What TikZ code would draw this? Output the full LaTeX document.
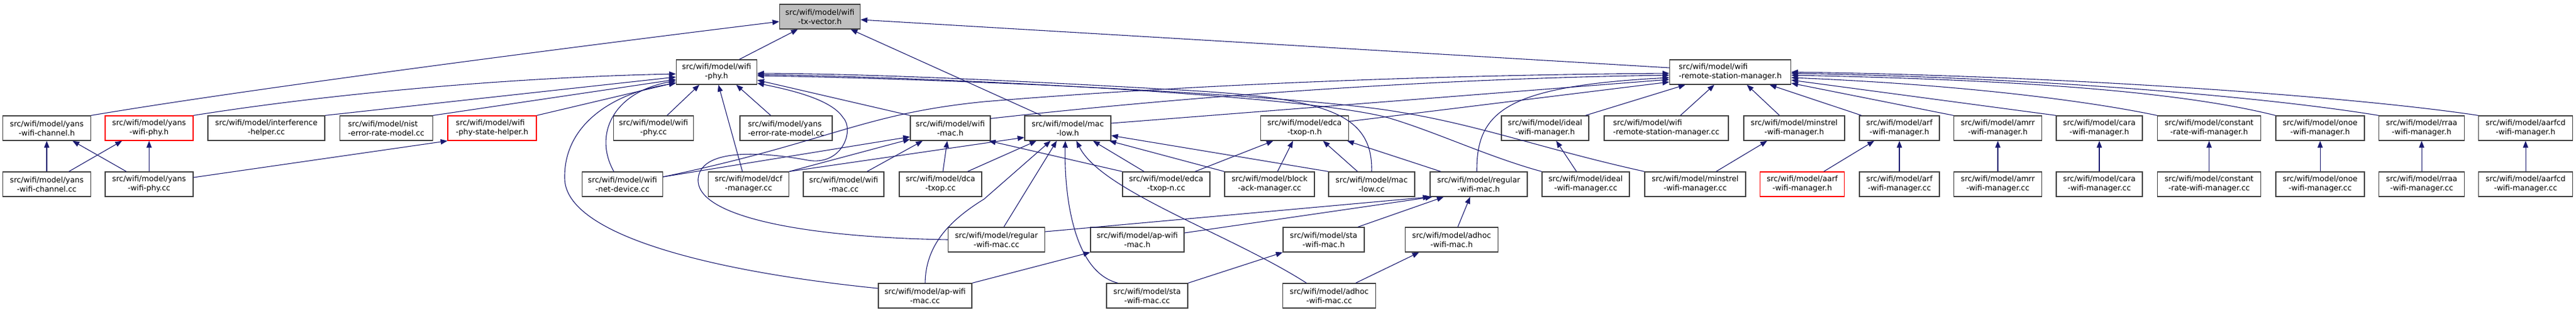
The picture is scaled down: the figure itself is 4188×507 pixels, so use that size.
\documentclass[tikz,border=0pt]{standalone}
\usepackage{fontspec}
\setmainfont{DejaVu Sans}
\usetikzlibrary{arrows.meta,calc}
\definecolor{edgec}{HTML}{191970}
\definecolor{boxc}{HTML}{404040}
\definecolor{rootfill}{HTML}{BFBFBF}
\tikzset{
  file/.style={draw=boxc, line width=1.3pt, fill=white, minimum height=40pt, inner sep=0pt,
    font=\fontsize{12.4}{15}\selectfont, align=center, text=black},
  lfile/.style={file, align=left},
  redf/.style={draw=red},
  rootf/.style={fill=rootfill},
  edge/.style={draw=edgec, line width=1.1pt, -{Triangle[length=11pt,width=8.5pt]}},
}
\begin{document}
\begin{tikzpicture}[x=1pt,y=-1pt]
\useasboundingbox (0,0) rectangle (4188,507);
% row 0
\node[file,rootf,minimum width=131pt] (txv) at (1333,27) {src/wifi/model/wifi\\-tx-vector.h};
% row 1
\node[file,minimum width=131pt] (phy) at (1165,117) {src/wifi/model/wifi\\-phy.h};
\node[lfile,minimum width=197pt] (rsm) at (2813,117) {src/wifi/model/wifi\\-remote-station-manager.h};
% row 2
\node[file,minimum width=143pt] (ychh) at (76,208) {src/wifi/model/yans\\-wifi-channel.h};
\node[file,redf,minimum width=143pt] (yphyh) at (242.4,208) {src/wifi/model/yans\\-wifi-phy.h};
\node[file,minimum width=190pt] (inter) at (433,208) {src/wifi/model/interference\\-helper.cc};
\node[lfile,minimum width=151pt] (nist) at (628,208) {src/wifi/model/nist\\-error-rate-model.cc};
\node[lfile,redf,minimum width=144pt] (psh) at (800,208) {src/wifi/model/wifi\\-phy-state-helper.h};
\node[file,minimum width=130pt] (phycc) at (1062.5,208) {src/wifi/model/wifi\\-phy.cc};
\node[lfile,minimum width=150pt] (yerr) at (1278,208) {src/wifi/model/yans\\-error-rate-model.cc};
\node[file,minimum width=130pt] (mach) at (1545,208) {src/wifi/model/wifi\\-mac.h};
\node[file,minimum width=140pt] (lowh) at (1736,208) {src/wifi/model/mac\\-low.h};
\node[file,minimum width=143pt] (edcah) at (2121,208) {src/wifi/model/edca\\-txop-n.h};
\node[file,minimum width=142pt] (idealh) at (2512,208) {src/wifi/model/ideal\\-wifi-manager.h};
\node[lfile,minimum width=202pt] (rsmcc) at (2709,208) {src/wifi/model/wifi\\-remote-station-manager.cc};
\node[file,minimum width=164pt] (minh) at (2917,208) {src/wifi/model/minstrel\\-wifi-manager.h};
\node[file,minimum width=130pt] (arfh) at (3088,208) {src/wifi/model/arf\\-wifi-manager.h};
\node[file,minimum width=143pt] (amrrh) at (3248,208) {src/wifi/model/amrr\\-wifi-manager.h};
\node[file,minimum width=140pt] (carah) at (3413,208) {src/wifi/model/cara\\-wifi-manager.h};
\node[file,minimum width=168pt] (consth) at (3591.5,208) {src/wifi/model/constant\\-rate-wifi-manager.h};
\node[file,minimum width=144pt] (onoeh) at (3772,208) {src/wifi/model/onoe\\-wifi-manager.h};
\node[file,minimum width=139pt] (rraah) at (3937,208) {src/wifi/model/rraa\\-wifi-manager.h};
\node[file,minimum width=153pt] (aarfcdh) at (4106,208) {src/wifi/model/aarfcd\\-wifi-manager.h};
% row 3
\node[file,minimum width=143pt] (ychcc) at (76,299) {src/wifi/model/yans\\-wifi-channel.cc};
\node[file,minimum width=143pt] (yphycc) at (242.4,299) {src/wifi/model/yans\\-wifi-phy.cc};
\node[file,minimum width=131pt] (netdev) at (1012,299) {src/wifi/model/wifi\\-net-device.cc};
\node[file,minimum width=131pt] (dcf) at (1217,299) {src/wifi/model/dcf\\-manager.cc};
\node[file,minimum width=131pt] (maccc) at (1371.6,299) {src/wifi/model/wifi\\-mac.cc};
\node[file,minimum width=134pt] (dca) at (1529,299) {src/wifi/model/dca\\-txop.cc};
\node[file,minimum width=142pt] (edcacc) at (1896,299) {src/wifi/model/edca\\-txop-n.cc};
\node[file,minimum width=146pt] (block) at (2064,299) {src/wifi/model/block\\-ack-manager.cc};
\node[file,minimum width=140pt] (lowcc) at (2230,299) {src/wifi/model/mac\\-low.cc};
\node[file,minimum width=158pt] (regh) at (2404,299) {src/wifi/model/regular\\-wifi-mac.h};
\node[file,minimum width=142pt] (idealcc) at (2578,299) {src/wifi/model/ideal\\-wifi-manager.cc};
\node[file,minimum width=164pt] (mincc) at (2756,299) {src/wifi/model/minstrel\\-wifi-manager.cc};
\node[file,redf,minimum width=137pt] (aarfh) at (2930,299) {src/wifi/model/aarf\\-wifi-manager.h};
\node[file,minimum width=130pt] (arfcc) at (3088,299) {src/wifi/model/arf\\-wifi-manager.cc};
\node[file,minimum width=143pt] (amrrcc) at (3248,299) {src/wifi/model/amrr\\-wifi-manager.cc};
\node[file,minimum width=140pt] (caracc) at (3413,299) {src/wifi/model/cara\\-wifi-manager.cc};
\node[file,minimum width=168pt] (constcc) at (3591.5,299) {src/wifi/model/constant\\-rate-wifi-manager.cc};
\node[file,minimum width=144pt] (onoecc) at (3772,299) {src/wifi/model/onoe\\-wifi-manager.cc};
\node[file,minimum width=139pt] (rraacc) at (3937,299) {src/wifi/model/rraa\\-wifi-manager.cc};
\node[file,minimum width=153pt] (aarfcdcc) at (4106,299) {src/wifi/model/aarfcd\\-wifi-manager.cc};
% row 4
\node[file,minimum width=157pt] (regcc) at (1620,389) {src/wifi/model/regular\\-wifi-mac.cc};
\node[file,minimum width=152pt] (aph) at (1849,389) {src/wifi/model/ap-wifi\\-mac.h};
\node[file,minimum width=132pt] (stah) at (2152,389) {src/wifi/model/sta\\-wifi-mac.h};
\node[file,minimum width=151pt] (adhoch) at (2360,389) {src/wifi/model/adhoc\\-wifi-mac.h};
% row 5
\node[file,minimum width=152pt] (apcc) at (1504,480) {src/wifi/model/ap-wifi\\-mac.cc};
\node[file,minimum width=132pt] (stacc) at (1865,480) {src/wifi/model/sta\\-wifi-mac.cc};
\node[file,minimum width=151pt] (adhoccc) at (2161,480) {src/wifi/model/adhoc\\-wifi-mac.cc};

% edges to tx-vector
\draw[edge] (ychh.north east) .. controls (400,145) and (900,80) .. ($(txv.west)+(0,8)$);
\draw[edge] ($(phy.north)+(37,0)$) -- ($(txv.south)+(-36,0)$);
\draw[edge] ($(lowh.north)+(-43,0)$) -- ($(txv.south)+(50,0)$);
\draw[edge] ($(rsm.west)+(0,-7)$) -- ($(txv.east)+(0,5)$);
% edges to wifi-phy.h
\draw[edge] (yphyh.north east) .. controls (550,150) and (850,125) .. ($(phy.west)+(0,3)$);
\draw[edge] (inter.north east) -- ($(phy.west)+(0,8)$);
\draw[edge] (nist.north east) -- ($(phy.west)+(0,12)$);
\draw[edge] (psh.north east) -- ($(phy.west)+(0,17)$);
\draw[edge] ($(phycc.north)+(22,0)$) -- ($(phy.south)+(-28,0)$);
\draw[edge] ($(netdev.north)+(-14,0)$) .. controls (965,220) and (995,150) .. ($(phy.west)+(0,14)$);
\draw[edge] ($(dcf.north)+(-10,0)$) -- ($(phy.south)+(3,0)$);
\draw[edge] ($(yerr.north)+(-25,0)$) -- ($(phy.south)+(32,0)$);
\draw[edge] ($(apcc.west)+(0,-12)$) .. controls (1150,440) and (920,380) .. (918,290)
   .. controls (916,200) and (1000,150) .. ($(phy.west)+(0,18)$);
\draw[edge] (regcc.west) .. controls (1300,385) and (1130,350) .. (1135,290)
   .. controls (1140,235) and (1260,250) .. (1313,260)
   .. controls (1370,270) and (1390,210) .. (1370,190)
   .. controls (1350,160) and (1280,145) .. ($(phy.east)+(0,18)$);
\draw[edge] (mach.north west) -- ($(phy.east)+(0,13)$);
\draw[edge] (lowcc.north) .. controls (2232,180) and (2150,158) .. (1900,145)
   .. controls (1600,128) and (1400,120) .. ($(phy.east)+(0,2)$);
\draw[edge] (idealcc.north west) .. controls (2420,255) and (2330,212) .. (2253,190)
   .. controls (2100,152) and (1500,125) .. ($(phy.east)+(0,4)$);
\draw[edge] (mincc.north west) .. controls (2500,240) and (2400,200) .. (2250,178)
   .. controls (2050,150) and (1500,127) .. ($(phy.east)+(0,6)$);
% wifi-net-device.cc
\draw[edge] ($(netdev.east)+(0,-12)$) -- ($(mach.west)+(0,14)$);
\draw[edge] ($(netdev.east)+(0,-12)$) .. controls (1350,230) and (1400,185) .. (1600,165)
   .. controls (1900,140) and (2300,122) .. ($(rsm.west)+(0,2)$);
% dcf-manager.cc
\draw[edge] (dcf.north east) -- ($(mach.west)+(0,18)$);
\draw[edge] (dcf.north east) -- ($(lowh.west)+(0,15)$);
% wifi-mac.h includers
\draw[edge] ($(maccc.north)+(38,0)$) -- ($(mach.south)+(-45,0)$);
\draw[edge] ($(dca.north)+(4,0)$) -- ($(mach.south)+(-5,0)$);
\draw[edge] ($(dca.north)+(44,0)$) -- ($(lowh.south)+(-51,0)$);
\draw[edge] (edcacc.north west) -- ($(mach.south east)+(-3,0)$);
\draw[edge] ($(edcacc.north)+(-36,0)$) -- ($(lowh.south)+(41,0)$);
\draw[edge] ($(edcacc.north)+(47,0)$) -- ($(edcah.south)+(-51,0)$);
\draw[edge] ($(block.north)+(13,0)$) -- ($(edcah.south)+(-19,0)$);
\draw[edge] (block.north west) -- ($(lowh.south east)+(-3,0)$);
\draw[edge] (lowcc.north west) -- ($(lowh.east)+(0,12)$);
\draw[edge] ($(lowcc.north)+(-23,0)$) -- ($(edcah.south)+(30,0)$);
\draw[edge] ($(regh.north west)+(18,0)$) -- ($(edcah.south east)+(-3,0)$);
% to remote-station-manager.h
\draw[edge] ($(regh.north)+(-3,0)$) .. controls (2400,180) and (2450,140) .. ($(rsm.west)+(0,9)$);
\draw[edge] ($(edcah.east)+(0,-11)$) -- ($(rsm.west)+(0,16)$);
\draw[edge] ($(lowh.east)+(0,-8)$) -- ($(rsm.west)+(0,12)$);
\draw[edge] ($(mach.north east)+(0,5)$) .. controls (1900,160) and (2300,128) .. ($(rsm.west)+(0,5)$);
\draw[edge] ($(idealh.north east)+(-6,0)$) -- ($(rsm.south west)+(26,0)$);
\draw[edge] ($(rsmcc.north)+(23,0)$) -- ($(rsm.south)+(-26,0)$);
\draw[edge] ($(minh.north)+(-24,0)$) -- ($(rsm.south)+(27,0)$);
\draw[edge] ($(arfh.north west)+(4,0)$) -- ($(rsm.south)+(64,0)$);
\draw[edge] (amrrh.north west) -- ($(rsm.east)+(0,18)$);
\draw[edge] (carah.north west) -- ($(rsm.east)+(0,13)$);
\draw[edge] (consth.north west) .. controls (3400,165) and (3200,138) .. ($(rsm.east)+(0,9)$);
\draw[edge] (onoeh.north west) .. controls (3550,150) and (3300,130) .. ($(rsm.east)+(0,5)$);
\draw[edge] (rraah.north west) .. controls (3700,160) and (3350,127) .. ($(rsm.east)+(0,2)$);
\draw[edge] (aarfcdh.north west) .. controls (3850,160) and (3400,124) .. (rsm.east);
% managers .cc -> .h
\draw[edge] ($(idealcc.north)+(-15,0)$) -- ($(idealh.south)+(18,0)$);
\draw[edge] ($(mincc.north)+(34,0)$) -- ($(minh.south)+(-44,0)$);
\draw[edge] ($(aarfh.north)+(35,0)$) -- ($(arfh.south)+(-41,0)$);
\draw[edge] (arfcc.north) -- (arfh.south);
\draw[edge] (amrrcc.north) -- (amrrh.south);
\draw[edge] (caracc.north) -- (carah.south);
\draw[edge] (constcc.north) -- (consth.south);
\draw[edge] (onoecc.north) -- (onoeh.south);
\draw[edge] (rraacc.north) -- (rraah.south);
\draw[edge] (aarfcdcc.north) -- (aarfcdh.south);
% yans
\draw[edge] (ychcc.north) -- (ychh.south);
\draw[edge] (yphycc.north) -- (yphyh.south);
\draw[edge] ($(ychcc.north)+(36,0)$) -- ($(yphyh.south)+(-44,0)$);
\draw[edge] ($(yphycc.north)+(-37,0)$) -- ($(ychh.south)+(42,0)$);
\draw[edge] ($(yphycc.east)+(0,-11)$) -- (psh.south west);
% mac layer
\draw[edge] ($(regcc.north)+(12,0)$) -- ($(lowh.south)+(-18,0)$);
\draw[edge] ($(regcc.east)+(0,-13)$) -- (regh.south west);
\draw[edge] ($(aph.east)+(0,-11)$) -- ($(regh.south west)+(4,0)$);
\draw[edge] ($(stah.north east)+(-11,0)$) -- ($(regh.south)+(-57,0)$);
\draw[edge] ($(adhoch.north)+(10,0)$) -- ($(regh.south)+(-14,0)$);
\draw[edge] (apcc.north east) -- (aph.south west);
\draw[edge] (apcc.north) .. controls (1505,400) and (1540,360) .. (1600,323) -- ($(lowh.south)+(-28,0)$);
\draw[edge] ($(stacc.north west)+(19,0)$) .. controls (1740,440) and (1730,300) .. ($(lowh.south)+(-4,0)$);
\draw[edge] (stacc.north east) -- (stah.south west);
\draw[edge] ($(adhoccc.north)+(-37,0)$) .. controls (2000,380) and (1790,310) .. ($(lowh.south)+(14,0)$);
\draw[edge] ($(adhoccc.north)+(43,0)$) -- ($(adhoch.south)+(-53,0)$);
\end{tikzpicture}
\end{document}
